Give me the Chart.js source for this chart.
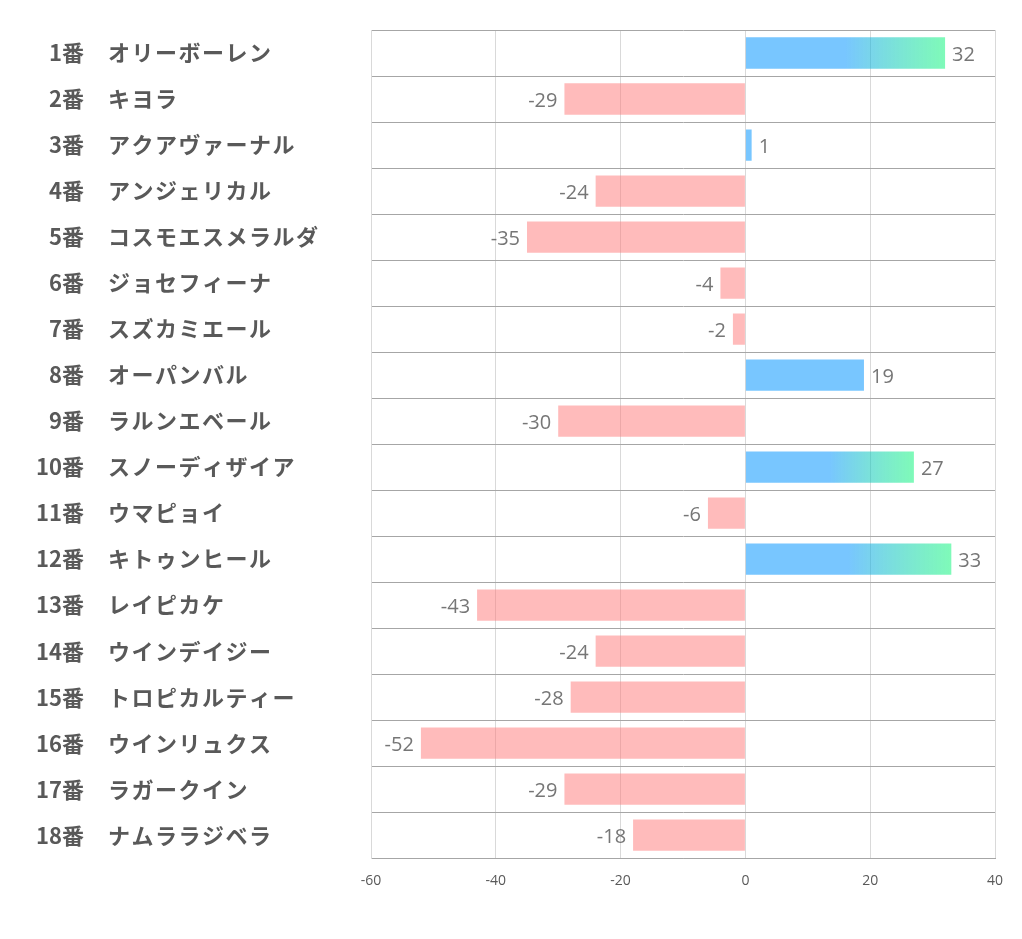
<!DOCTYPE html>
<html><head><meta charset="utf-8">
<script src="https://cdn.jsdelivr.net/npm/chart.js@4.4.1/dist/chart.umd.min.js"></script>
<style>html,body{margin:0;padding:0;background:#fff}#wrap{width:1022px;height:939px}</style>
</head><body><div id="wrap"><canvas id="c" width="1022" height="939"></canvas></div>
<script>
const numbers = ["1番","2番","3番","4番","5番","6番","7番","8番","9番","10番","11番","12番","13番","14番","15番","16番","17番","18番"];
const names = ["オリーボーレン","キヨラ","アクアヴァーナル","アンジェリカル","コスモエスメラルダ","ジョセフィーナ","スズカミエール","オーパンバル","ラルンエベール","スノーディザイア","ウマピョイ","キトゥンヒール","レイピカケ","ウインデイジー","トロピカルティー","ウインリュクス","ラガークイン","ナムララジベラ"];
const values = [32,-29,1,-24,-35,-4,-2,19,-30,27,-6,33,-43,-24,-28,-52,-29,-18];
const xTicks = [-60,-40,-20,0,20,40];

const BLUE = 'rgba(30,160,255,0.6)';
const GREEN = 'rgba(0,245,115,0.5)';
const PINK = 'rgba(255,120,120,0.5)';

const labelPlugin = {
  id: 'labels',
  afterDatasetsDraw(chart) {
    const ctx = chart.ctx;
    const y = chart.scales.y;
    const meta = chart.getDatasetMeta(0);
    ctx.save();
    ctx.textBaseline = 'middle';
    ctx.fillStyle = '#595959';
    ctx.font = 'bold 22px "Noto Sans CJK JP"';
    numbers.forEach((n, i) => {
      const py = y.getPixelForValue(i);
      ctx.textAlign = 'right';
      ctx.fillText(n, 84, py);
      ctx.textAlign = 'left';
      try { ctx.letterSpacing = '1.5px'; } catch(e) {}
      ctx.fillText(names[i], 108, py);
      try { ctx.letterSpacing = '0px'; } catch(e) {}
    });
    ctx.fillStyle = '#767676';
    ctx.font = '20px "Open Sans"';
    meta.data.forEach((bar, i) => {
      const v = values[i];
      if (v >= 0) { ctx.textAlign = 'left'; ctx.fillText(String(v), bar.x + 7, bar.y + 2); }
      else { ctx.textAlign = 'right'; ctx.fillText(String(v), bar.x - 7, bar.y + 2); }
    });
    ctx.restore();
  }
};

new Chart(document.getElementById('c'), {
  type: 'bar',
  data: {
    labels: names,
    datasets: [{
      data: values,
      backgroundColor(context) {
        const v = values[context.dataIndex];
        if (v < 0) return PINK;
        if (v < 20) return BLUE;
        const chart = context.chart;
        const xs = chart.scales.x;
        if (!xs || !chart.chartArea) return BLUE;
        const x0 = xs.getPixelForValue(0), x1 = xs.getPixelForValue(v);
        const g = chart.ctx.createLinearGradient(x0, 0, x1, 0);
        g.addColorStop(0, BLUE);
        g.addColorStop(0.5, BLUE);
        g.addColorStop(1, GREEN);
        return g;
      },
      borderWidth: 0,
      categoryPercentage: 0.68,
      barPercentage: 1.0
    }]
  },
  options: {
    indexAxis: 'y',
    responsive: false,
    animation: false,
    devicePixelRatio: 1,
    layout: { padding: { left: 371, right: 27, top: 30, bottom: 36 } },
    plugins: { legend: { display: false }, tooltip: { enabled: false } },
    scales: {
      x: {
        min: -60, max: 40,
        afterBuildTicks(axis) { axis.ticks = xTicks.map(v => ({ value: v })); },
        grid: { color: '#d9d9d9', drawTicks: false, lineWidth: 1 },
        border: { color: '#a6a6a6', width: 1 },
        ticks: { color: '#595959', font: { family: '"Open Sans"', size: 14 }, padding: 14 }
      },
      y: {
        grid: { offset: true, color: '#a6a6a6', drawTicks: false, lineWidth: 1 },
        border: { color: '#d9d9d9', width: 1 },
        ticks: { display: false }
      }
    }
  },
  plugins: [labelPlugin]
});
</script></body></html>
